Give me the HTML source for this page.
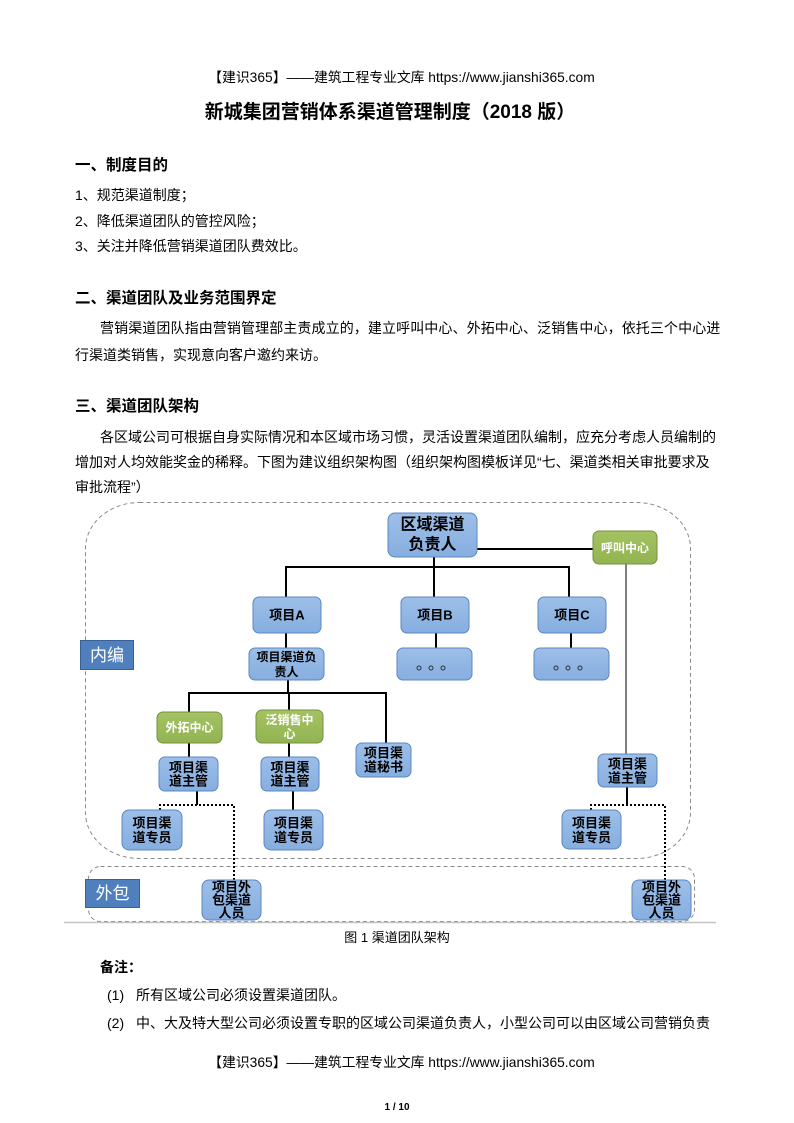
<!DOCTYPE html>
<html><head><meta charset="utf-8">
<style>
html,body{margin:0;padding:0;background:#fff;}
#pg{position:relative;width:794px;height:1123px;overflow:hidden;background:#fff;font-family:"Liberation Sans","Noto Sans CJK SC",sans-serif;color:#000;}
.t{position:absolute;white-space:nowrap;line-height:20px;height:20px;font-size:14px;}
.h{font-weight:bold;font-size:15.5px;}
.c{left:0;width:794px;text-align:center;}
svg{position:absolute;left:0;top:0;}
svg text{font-family:"Liberation Sans","Noto Sans CJK SC",sans-serif;}
</style></head>
<body><div id="pg">
<div class="t c" style="top:68px;font-size:13.8px;padding-left:9px;box-sizing:border-box;">【建识365】——建筑工程专业文库 https://www.jianshi365.com</div>
<div class="t" style="top:101px;left:0;width:780px;text-align:center;font-size:19px;font-weight:bold;line-height:24px;height:24px;">新城集团营销体系渠道管理制度（2018 版）</div>

<div class="t h" style="top:156px;left:75px;">一、制度目的</div>
<div class="t" style="top:185px;left:75px;">1、规范渠道制度；</div>
<div class="t" style="top:211px;left:75px;">2、降低渠道团队的管控风险；</div>
<div class="t" style="top:236px;left:75px;">3、关注并降低营销渠道团队费效比。</div>

<div class="t h" style="top:289px;left:75px;">二、渠道团队及业务范围界定</div>
<div class="t" style="top:318px;left:100px;letter-spacing:0.1px;">营销渠道团队指由营销管理部主责成立的，建立呼叫中心、外拓中心、泛销售中心，依托三个中心进</div>
<div class="t" style="top:345px;left:75px;">行渠道类销售，实现意向客户邀约来访。</div>

<div class="t h" style="top:397px;left:75px;">三、渠道团队架构</div>
<div class="t" style="top:427px;left:100px;">各区域公司可根据自身实际情况和本区域市场习惯，灵活设置渠道团队编制，应充分考虑人员编制的</div>
<div class="t" style="top:452px;left:75px;">增加对人均效能奖金的稀释。下图为建议组织架构图（组织架构图模板详见“七、渠道类相关审批要求及</div>
<div class="t" style="top:477px;left:75px;">审批流程”）</div>

<svg width="794" height="1123" viewBox="0 0 794 1123">
  <defs>
    <linearGradient id="gb" x1="0" y1="0" x2="0" y2="1">
      <stop offset="0" stop-color="#9dbfe8"/><stop offset="1" stop-color="#86aee0"/>
    </linearGradient>
    <linearGradient id="gg" x1="0" y1="0" x2="0" y2="1">
      <stop offset="0" stop-color="#a4c262"/><stop offset="1" stop-color="#93b452"/>
    </linearGradient>
  </defs>
  <!-- containers -->
  <rect x="85.5" y="502.5" width="605" height="356" rx="54" ry="46" fill="none" stroke="#8a8a8a" stroke-width="1" stroke-dasharray="4 3"/>
  <rect x="88.5" y="866.5" width="606" height="55" rx="12" ry="12" fill="none" stroke="#8a8a8a" stroke-width="1" stroke-dasharray="4 3"/>
  <line x1="64" y1="922.5" x2="716" y2="922.5" stroke="#c4c4c4" stroke-width="1.5"/>

  <!-- solid connectors -->
  <g stroke="#000" stroke-width="2" fill="none">
    <line x1="477" y1="549" x2="593" y2="549"/>
    <line x1="434" y1="557" x2="434" y2="567"/>
    <line x1="285" y1="567" x2="570" y2="567"/>
    <line x1="286" y1="567" x2="286" y2="597"/>
    <line x1="434" y1="567" x2="434" y2="597"/>
    <line x1="569" y1="567" x2="569" y2="597"/>
    <line x1="286" y1="633" x2="286" y2="648"/>
    <line x1="436" y1="633" x2="436" y2="648"/>
    <line x1="571" y1="633" x2="571" y2="648"/>
    <line x1="288" y1="680" x2="288" y2="693"/>
    <line x1="188" y1="693" x2="387" y2="693"/>
    <line x1="189" y1="693" x2="189" y2="712"/>
    <line x1="289" y1="693" x2="289" y2="710"/>
    <line x1="386" y1="693" x2="386" y2="743"/>
    <line x1="189" y1="743" x2="189" y2="757"/>
    <line x1="289" y1="743" x2="289" y2="757"/>
    <line x1="293" y1="791" x2="293" y2="810"/>
    <line x1="197" y1="791" x2="197" y2="805"/>
    <line x1="627" y1="787" x2="627" y2="805"/>
  </g>
  <line x1="626" y1="564" x2="626" y2="754" stroke="#555" stroke-width="1.5"/>
  <!-- dotted -->
  <g stroke="#000" stroke-width="2" fill="none" stroke-dasharray="2 2">
    <polyline points="160,810 160,805 234,805 234,880"/>
    <polyline points="591,810 591,805 665,805 665,880"/>
  </g>

  <!-- blue nodes -->
  <g fill="url(#gb)" stroke="#5b87c0" stroke-width="1">
    <rect x="388" y="513" width="89" height="44" rx="7"/>
    <rect x="253" y="597" width="68" height="36" rx="6"/>
    <rect x="401" y="597" width="68" height="36" rx="6"/>
    <rect x="538" y="597" width="68" height="36" rx="6"/>
    <rect x="249" y="648" width="75" height="32" rx="6"/>
    <rect x="397" y="648" width="75" height="32" rx="6"/>
    <rect x="534" y="648" width="75" height="32" rx="6"/>
    <rect x="356" y="743" width="55" height="34" rx="6"/>
    <rect x="159" y="757" width="59" height="34" rx="6"/>
    <rect x="261" y="757" width="58" height="34" rx="6"/>
    <rect x="598" y="754" width="59" height="33" rx="6"/>
    <rect x="122" y="810" width="60" height="40" rx="7"/>
    <rect x="264" y="810" width="59" height="40" rx="7"/>
    <rect x="562" y="810" width="59" height="39" rx="7"/>
    <rect x="202" y="880" width="59" height="40" rx="7"/>
    <rect x="632" y="880" width="59" height="40" rx="7"/>
  </g>
  <!-- green nodes -->
  <g fill="url(#gg)" stroke="#76903f" stroke-width="1">
    <rect x="593" y="531" width="64" height="33" rx="6"/>
    <rect x="157" y="712" width="65" height="31" rx="6"/>
    <rect x="256" y="710" width="67" height="33" rx="6"/>
  </g>
  <!-- labels 内编 / 外包 -->
  <rect x="80.5" y="640.5" width="53" height="29" fill="#4f7fbd" stroke="#3a6196" stroke-width="1"/>
  <rect x="85.5" y="879.5" width="54" height="28" fill="#4f7fbd" stroke="#3a6196" stroke-width="1"/>
  <text x="107" y="655.5" fill="#fff" font-size="17" text-anchor="middle" dominant-baseline="central">内编</text>
  <text x="112.5" y="893.5" fill="#fff" font-size="17" text-anchor="middle" dominant-baseline="central">外包</text>

  <!-- dots -->
  <g fill="none" stroke="#333" stroke-width="1">
    <circle cx="419" cy="668" r="2"/><circle cx="431" cy="668" r="2"/><circle cx="443" cy="668" r="2"/>
    <circle cx="556" cy="668" r="2"/><circle cx="568" cy="668" r="2"/><circle cx="580" cy="668" r="2"/>
  </g>

  <!-- node text -->
  <g font-weight="bold" text-anchor="middle" dominant-baseline="central" fill="#000">
    <text x="432.5" y="525" font-size="16">区域渠道</text>
    <text x="432.5" y="545" font-size="16">负责人</text>
    <text x="287" y="615" font-size="13">项目A</text>
    <text x="435" y="615" font-size="13">项目B</text>
    <text x="572" y="615" font-size="13">项目C</text>
    <text x="286.5" y="657" font-size="12">项目渠道负</text>
    <text x="286.5" y="672" font-size="12">责人</text>
    <text x="383.5" y="753" font-size="13">项目渠</text>
    <text x="383.5" y="767" font-size="13">道秘书</text>
    <text x="188.5" y="767.5" font-size="13">项目渠</text>
    <text x="188.5" y="781" font-size="13">道主管</text>
    <text x="290" y="767.5" font-size="13">项目渠</text>
    <text x="290" y="781" font-size="13">道主管</text>
    <text x="627.5" y="764" font-size="13">项目渠</text>
    <text x="627.5" y="778" font-size="13">道主管</text>
    <text x="152" y="823" font-size="13">项目渠</text>
    <text x="152" y="837.5" font-size="13">道专员</text>
    <text x="293.5" y="823" font-size="13">项目渠</text>
    <text x="293.5" y="837.5" font-size="13">道专员</text>
    <text x="591.5" y="823" font-size="13">项目渠</text>
    <text x="591.5" y="837.5" font-size="13">道专员</text>
    <text x="231.5" y="887" font-size="13">项目外</text>
    <text x="231.5" y="900" font-size="13">包渠道</text>
    <text x="231.5" y="913" font-size="13">人员</text>
    <text x="661.5" y="887" font-size="13">项目外</text>
    <text x="661.5" y="900" font-size="13">包渠道</text>
    <text x="661.5" y="913" font-size="13">人员</text>
  </g>
  <g font-weight="bold" text-anchor="middle" dominant-baseline="central" fill="#fff" font-size="12">
    <text x="625" y="548">呼叫中心</text>
    <text x="189.5" y="727.5">外拓中心</text>
    <text x="289.5" y="720">泛销售中</text>
    <text x="289.5" y="734">心</text>
  </g>
</svg>

<div class="t c" style="top:928px;font-size:13px;">图 1 渠道团队架构</div>
<div class="t" style="top:957px;left:100px;font-weight:bold;">备注：</div>
<div class="t" style="top:985px;left:107px;">(1)</div>
<div class="t" style="top:985px;left:136px;">所有区域公司必须设置渠道团队。</div>
<div class="t" style="top:1013px;left:107px;">(2)</div>
<div class="t" style="top:1013px;left:136px;letter-spacing:0px;">中、大及特大型公司必须设置专职的区域公司渠道负责人，小型公司可以由区域公司营销负责</div>

<div class="t c" style="top:1053px;font-size:13.8px;padding-left:9px;box-sizing:border-box;">【建识365】——建筑工程专业文库 https://www.jianshi365.com</div>
<div class="t c" style="top:1098px;font-size:10px;font-weight:bold;">1 / 10</div>
</div></body></html>
